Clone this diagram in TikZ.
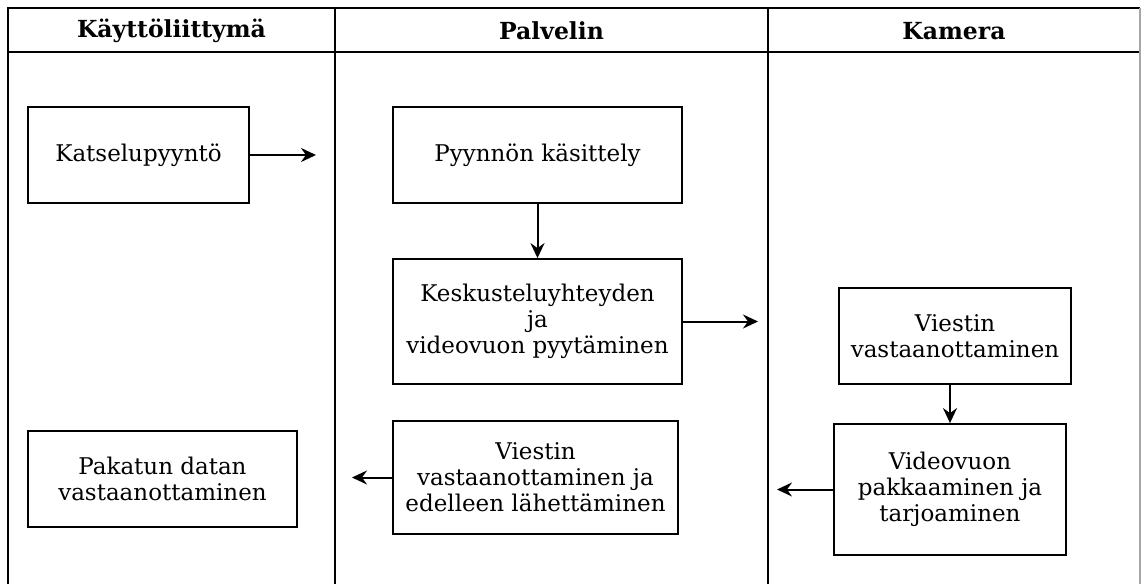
\documentclass[tikz,border=0pt]{standalone}
\usepackage{fontspec}
\setmainfont{DejaVu Serif}
\usetikzlibrary{arrows.meta}
\begin{document}
\begin{tikzpicture}[x=1pt,y=-1pt,
  box/.style={draw, line width=1.8pt, align=center, inner sep=0pt,
    font=\fontsize{23}{26}\selectfont},
  head/.style={font=\fontsize{23.5}{26}\selectfont\bfseries},
  flow/.style={-{Stealth[length=15pt,width=14pt,inset=5pt]}, line width=2pt},
  lane/.style={line width=2pt}]
\useasboundingbox (0,0) rectangle (1141,584);

% swimlane frame
\draw[lane] (8,584) -- (8,8) -- (1140,8);
\draw[lane] (8,52) -- (1140,52);
\draw[lane] (335,8) -- (335,584);
\draw[lane] (768,8) -- (768,584);
\draw[line width=1.8pt, black!35] (1140,8) -- (1140,584);

% lane titles
\node[head] (hUI)  at (171.5,31) {Käyttöliittymä};
\node[head] (hSrv) at (551.5,31) {Palvelin};
\node[head] (hCam) at (954,31)   {Kamera};

% process steps
\node[box, minimum width=221pt, minimum height=96pt]  (kats) at (138.5,155) {Katselupyyntö};
\node[box, minimum width=289pt, minimum height=96pt]  (pyyn) at (537.5,155) {Pyynnön käsittely};
\node[box, minimum width=289pt, minimum height=125pt] (kesk) at (537.5,321.5) {Keskusteluyhteyden\\ja\\videovuon pyytäminen};
\node[box, minimum width=232pt, minimum height=96pt]  (vies) at (955,336) {Viestin\\vastaanottaminen};
\node[box, minimum width=232pt, minimum height=131pt] (video) at (950,489.5) {Videovuon\\pakkaaminen ja\\tarjoaminen};
\node[box, minimum width=285pt, minimum height=113pt] (edel) at (535.5,477.5) {Viestin\\vastaanottaminen ja\\edelleen lähettäminen};
\node[box, minimum width=269pt, minimum height=96pt]  (pak) at (162.5,479) {Pakatun datan\\vastaanottaminen};

% free arrow ends
\coordinate (kEnd) at (316,155);
\coordinate (sEnd) at (758,321.5);
\coordinate (vEnd) at (777,489.5);
\coordinate (eEnd) at (352,477.5);

% connectors
\draw[flow] (kats.east) -- (kEnd);
\draw[flow] (pyyn.south) -- (kesk.north);
\draw[flow] (kesk.east) -- (sEnd);
\draw[flow] (video.north |- vies.south) -- (video.north);
\draw[flow] (video.west) -- (vEnd);
\draw[flow] (edel.west) -- (eEnd);
\end{tikzpicture}
\end{document}
